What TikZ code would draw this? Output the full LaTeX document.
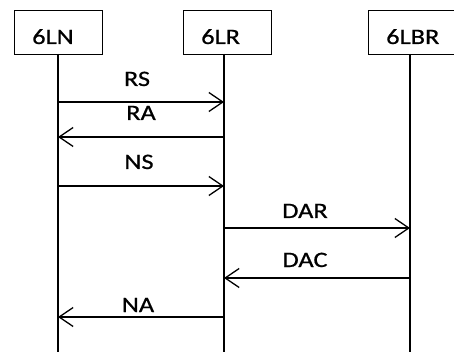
\documentclass[tikz,border=0pt]{standalone}
\usepackage{fontspec}
\setmainfont[FakeStretch=1.2, FakeBold=0.7]{Carlito}
\usetikzlibrary{arrows.meta}

\tikzset{
  partbox/.style={draw=black, line width=0.9pt, minimum width=88pt, minimum height=44pt, inner sep=0pt},
  partname/.style={anchor=base west, inner sep=0pt, font=\fontsize{22}{22}\selectfont},
  msgname/.style={anchor=base, inner sep=0pt, font=\fontsize{22}{22}\selectfont},
  lifeline/.style={line width=1.4pt},
  msg/.style={line width=1.4pt, -{Straight Barb[length=14pt, width=19pt, line width=1.3pt]}}
}

\begin{document}
\begin{tikzpicture}[x=1pt, y=-1pt]
  \useasboundingbox (0,0) rectangle (454,352);
  \clip (0,0) rectangle (454,352);

  % participants
  \node[partbox] (ln)  at (58,32)  {};
  \node[partbox] (lr)  at (227,32) {};
  \node[partbox] (lbr) at (412,32) {};
  \node[partname] (lnName)  at (32,44)  {6LN};
  \node[partname] (lrName)  at (201,44) {6LR};
  \node[partname] (lbrName) at (386,44) {6LBR};

  % lifelines
  \coordinate (lnTop)  at (58,54);
  \coordinate (lrTop)  at (224,54);
  \coordinate (lbrTop) at (410,54);
  \coordinate (lnBot)  at (58,352);
  \coordinate (lrBot)  at (224,352);
  \coordinate (lbrBot) at (410,352);
  \draw[lifeline] (lnTop) -- (lnBot);
  \draw[lifeline] (lrTop) -- (lrBot);
  \draw[lifeline] (lbrTop) -- (lbrBot);

  % messages
  \draw[msg] (lnTop |- 0,102) -- (lrTop |- 0,102);
  \draw[msg] (lrTop |- 0,137) -- (lnTop |- 0,137);
  \draw[msg] (lnTop |- 0,186) -- (lrTop |- 0,186);
  \draw[msg] (lrTop |- 0,228) -- (lbrTop |- 0,228);
  \draw[msg] (lbrTop |- 0,278) -- (lrTop |- 0,278);
  \draw[msg] (lrTop |- 0,317) -- (lnTop |- 0,317);

  % message labels
  \node[msgname] (rs)  at (137,86)  {RS};
  \node[msgname] (ra)  at (141,120) {RA};
  \node[msgname] (ns)  at (139,169) {NS};
  \node[msgname] (dar) at (305,218) {DAR};
  \node[msgname] (dac) at (305,267) {DAC};
  \node[msgname] (na)  at (138,312) {NA};
\end{tikzpicture}
\end{document}
